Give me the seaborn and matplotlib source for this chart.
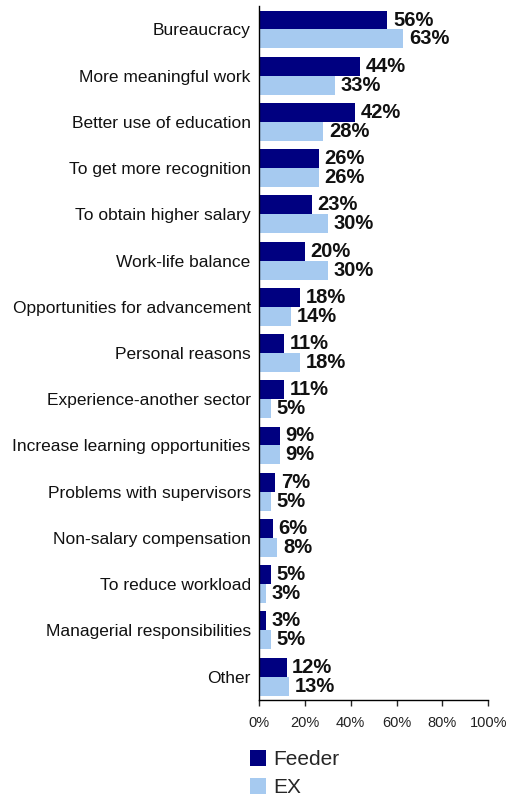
import matplotlib
matplotlib.use("Agg")
import matplotlib.pyplot as plt
import seaborn as sns
import pandas as pd
from matplotlib.patches import Patch

categories = [
    "Bureaucracy", "More meaningful work", "Better use of education",
    "To get more recognition", "To obtain higher salary", "Work-life balance",
    "Opportunities for advancement", "Personal reasons",
    "Experience-another sector", "Increase learning opportunities",
    "Problems with supervisors", "Non-salary compensation",
    "To reduce workload", "Managerial responsibilities", "Other",
]
feeder = [56, 44, 42, 26, 23, 20, 18, 11, 11, 9, 7, 6, 5, 3, 12]
ex = [63, 33, 28, 26, 30, 30, 14, 18, 5, 9, 5, 8, 3, 5, 13]
series = ["Feeder", "EX"]
colors = {"Feeder": "#000080", "EX": "#A6CAF0"}
x_ticks = [0, 20, 40, 60, 80, 100]

df = pd.DataFrame({
    "reason": categories * 2,
    "value": feeder + ex,
    "group": ["Feeder"] * len(feeder) + ["EX"] * len(ex),
})

sns.set_style("white")
plt.rcParams["font.family"] = ["Liberation Sans", "DejaVu Sans"]

fig = plt.figure(figsize=(5.09, 7.96), dpi=100)
ax = fig.add_axes([0.509, 0.121, 0.45, 0.871])

sns.barplot(data=df, y="reason", x="value", hue="group", order=categories,
            hue_order=series, palette=colors, orient="h", width=0.82,
            saturation=1, legend=False, linewidth=0, ax=ax)

for container in ax.containers:
    ax.bar_label(container, labels=[f"{v:.0f}%" for v in container.datavalues],
                 padding=4, fontsize=14.5, fontweight="bold", color="#111111")

ax.set_xlim(0, 100)
ax.set_ylim(len(categories) - 0.5, -0.5)
ax.set_xticks(x_ticks)
ax.set_xticklabels([f"{t}%" for t in x_ticks], fontsize=10.5)
ax.set_xlabel("")
ax.set_ylabel("")
ax.tick_params(axis="y", length=0, labelsize=12.5, pad=6, labelcolor="#111111")
ax.tick_params(axis="x", length=4, width=1, direction="out", bottom=True, pad=8,
               labelcolor="#222222")

for side in ["top", "right"]:
    ax.spines[side].set_visible(False)
for side in ["left", "bottom"]:
    ax.spines[side].set_color("black")
    ax.spines[side].set_linewidth(1)

handles = [Patch(facecolor=colors[s], edgecolor="none", label=s) for s in series]
fig.legend(handles=handles, loc="upper left", bbox_to_anchor=(0.475, 0.068),
           frameon=False, fontsize=15, handlelength=0.77, handleheight=0.77,
           handletextpad=0.35, labelspacing=0.42, borderaxespad=0)

fig.savefig("out.png", dpi=100)
